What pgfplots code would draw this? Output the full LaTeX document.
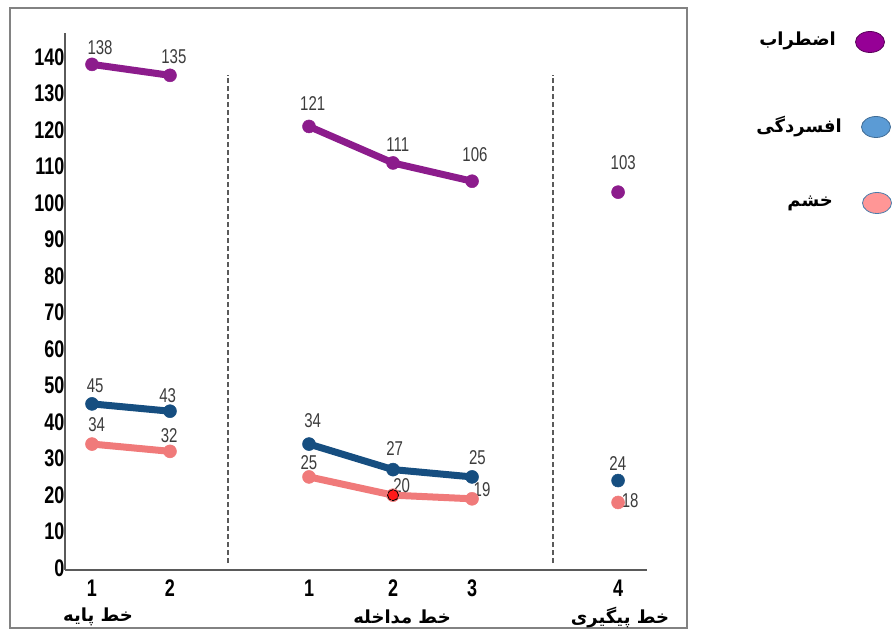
\documentclass[border=0pt]{standalone}
\usepackage{pgfplots}
\pgfplotsset{compat=1.18}
\usepackage{fontspec}
\setmainfont{Liberation Sans}
\newfontfamily\numfont[FakeStretch=0.75]{Liberation Sans}
\newfontfamily\fa[Script=Arabic]{DejaVu Sans}
\TeXXeTstate=1

\definecolor{anx}{RGB}{140,28,140}
\definecolor{dep}{RGB}{22,78,128}
\definecolor{ang}{RGB}{240,122,122}
\definecolor{anxleg}{RGB}{150,0,150}
\definecolor{depleg}{RGB}{91,155,213}
\definecolor{angleg}{RGB}{255,150,150}
\definecolor{framegray}{RGB}{130,130,130}
\definecolor{axgray}{RGB}{90,90,90}
\definecolor{lblgray}{RGB}{60,60,60}

\begin{document}
\begin{tikzpicture}[x=1pt,y=1pt]
\useasboundingbox (-65,-61) rectangle (828,570);
\draw[framegray, line width=2] (-55,562) rectangle (622,-58);
\begin{axis}[
    at={(0,0)}, anchor=south west,
    scale only axis, width=582pt, height=537pt,
    xmin=0.654, xmax=8.115, ymin=-0.5, ymax=146.6,
    axis lines=left,
    axis line style={axgray, line width=1.5pt, -},
    major tick length=0pt,
    xtick={1,2,3.782,4.859,5.872,7.744},
    xticklabels={1,2,1,2,3,4},
    ytick={0,10,...,140},
    /pgf/number format/assume math mode=true,
    ticklabel style={font=\numfont\bfseries\fontsize{24}{26}\selectfont, text=black},
    xticklabel style={yshift=-6pt},
    yticklabel style={xshift=3pt},
    unbounded coords=jump,
    clip=false,
    every axis plot/.append style={line width=7pt, mark=*, mark size=6.5pt},
  ]
  % dashed phase separators
  \addplot[axgray, line width=1.5pt, dash pattern=on 5pt off 3pt, mark=none] coordinates {(2.744,1.4) (2.744,135.1)};
  \addplot[axgray, line width=1.5pt, dash pattern=on 5pt off 3pt, mark=none] coordinates {(6.910,1.4) (6.910,135.1)};

  % anger
  \addplot[ang, mark options={fill=ang, draw=ang, line width=0.5pt}] coordinates {
    (1,34) (2,32) (2.5,nan) (3.782,25) (4.859,20) (5.872,19) (6.9,nan) (7.744,18)};
  \addplot[only marks, mark=*, mark size=5.5pt, mark options={fill=red!90!white, draw=black, densely dotted, line width=0.8pt}] coordinates {(4.859,20)};
  % depression
  \addplot[dep, mark options={fill=dep, draw=dep, line width=0.5pt}] coordinates {
    (1,45) (2,43) (2.5,nan) (3.782,34) (4.859,27) (5.872,25) (6.9,nan) (7.744,24)};
  % anxiety
  \addplot[anx, mark options={fill=anx, draw=anx, line width=0.5pt}] coordinates {
    (1,138) (2,135) (2.5,nan) (3.782,121) (4.859,111) (5.872,106) (6.9,nan) (7.744,103)};

  % data labels
  \begin{scope}[every node/.style={font=\numfont\fontsize{20}{22}\selectfont, text=lblgray, inner sep=0pt}]
    \node at (axis cs:1.103,142.7) {138};
    \node at (axis cs:2.05,140) {135};
    \node at (axis cs:3.83,127.4) {121};
    \node at (axis cs:4.92,115.9) {111};
    \node at (axis cs:5.91,113.4) {106};
    \node at (axis cs:7.81,111) {103};
    \node at (axis cs:1.04,50.1) {45};
    \node at (axis cs:1.97,47.4) {43};
    \node at (axis cs:3.83,40.3) {34};
    \node at (axis cs:4.88,32.9) {27};
    \node at (axis cs:5.94,30.4) {25};
    \node at (axis cs:7.74,28.8) {24};
    \node at (axis cs:1.06,39.2) {34};
    \node at (axis cs:1.99,36.2) {32};
    \node at (axis cs:3.78,29.0) {25};
    \node at (axis cs:4.97,22.5) {20};
    \node at (axis cs:6.0,21.6) {19};
    \node at (axis cs:7.90,18.6) {18};
  \end{scope}
\end{axis}

% phase names
\begin{scope}[every node/.style={font=\fa\bfseries\fontsize{18}{21}\selectfont, inner sep=0pt}]
  \node at (33,-47) {\beginR خط پایه\endR};
  \node at (337,-47) {\beginR خط مداخله\endR};
  \node at (555,-48) {\beginR خط پیگیری\endR};
  % legend
  \node[anchor=base east] at (771,524) {\beginR اضطراب\endR};
  \node[anchor=base east] at (777,437) {\beginR افسردگی\endR};
  \node[anchor=base east] at (768,363) {\beginR خشم\endR};
\end{scope}
\draw[fill=anxleg, draw=anxleg!60!black, line width=0.8] (805,528) ellipse (14.5 and 10.5);
\draw[fill=depleg, draw=depleg!70!black, line width=0.8] (811,443) ellipse (14.5 and 10.5);
\draw[fill=angleg, draw=depleg!80!black, line width=0.8] (812,367) ellipse (14.5 and 10.5);
\end{tikzpicture}
\end{document}
